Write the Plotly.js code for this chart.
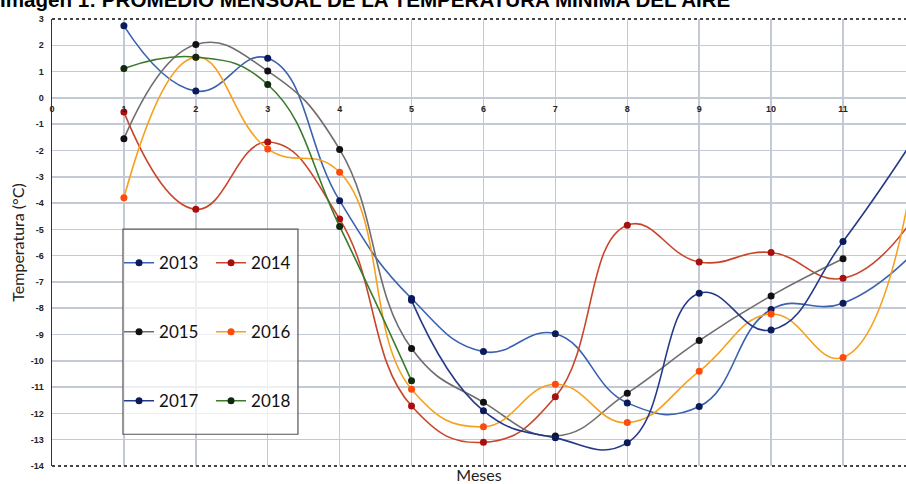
<!DOCTYPE html>
<html>
<head>
<meta charset="utf-8">
<script src="https://cdn.plot.ly/plotly-3.0.1.min.js"></script>
<style>html,body{margin:0;padding:0;background:#fff;}#chart{width:906px;height:484px;}</style>
</head>
<body>
<div id="chart"></div>
<script>
const months = [1, 2, 3, 4, 5, 6, 7, 8, 9, 10, 11, 12];
const monthTicks = [0, 1, 2, 3, 4, 5, 6, 7, 8, 9, 10, 11];
const yTicks = [3, 2, 1, 0, -1, -2, -3, -4, -5, -6, -7, -8, -9, -10, -11, -12, -13, -14];
const seriesNames = ['2013', '2014', '2015', '2016', '2017', '2018'];
const t2013 = [2.74, 0.26, 1.51, -3.91, -7.63, -9.65, -8.97, -11.6, -11.74, -8.05, -7.81, -5.85];
const t2014 = [-0.54, -4.24, -1.68, -4.61, -11.72, -13.1, -11.37, -4.84, -6.24, -5.88, -6.86, -4.5];
const t2015 = [-1.55, 2.03, 1.02, -1.96, -9.53, -11.58, -12.86, -11.23, -9.23, -7.53, -6.12, null];
const t2016 = [-3.8, 1.55, -1.94, -2.83, -11.08, -12.51, -10.89, -12.35, -10.4, -8.22, -9.87, -2.5];
const t2017 = [null, null, null, null, -7.7, -11.9, -12.93, -13.12, -7.43, -8.83, -5.46, -1.5];
const t2018 = [1.12, 1.55, 0.51, -4.89, -10.76, null, null, null, null, null, null, null];

const seriesValues = [t2013, t2014, t2015, t2016, t2017, t2018];
const lineColors = ['#3a62b0', '#c9452a', '#6e6e6e', '#f6a01e', '#24398a', '#3b7a2b'];
const markerColors = ['#0b1a5c', '#a80f0f', '#111111', '#ff4a0a', '#0b1a5c', '#0f2a0f'];
const legendIds = ['legend', 'legend', 'legend2', 'legend2', 'legend3', 'legend3'];

const traces = seriesNames.map((name, i) => ({
  type: 'scatter',
  mode: 'lines+markers',
  name: name,
  x: months,
  y: seriesValues[i],
  line: {color: lineColors[i], width: 1.6, shape: 'spline', smoothing: 1.3},
  marker: {color: markerColors[i], size: 7},
  connectgaps: false,
  legend: legendIds[i],
  hoverinfo: 'x+y+name'
}));
// helper trace so the zero-line label axis is drawn
traces.push({type: 'scatter', x: monthTicks, y: monthTicks.map(() => null), xaxis: 'x2', yaxis: 'y', showlegend: false, hoverinfo: 'skip', mode: 'markers'});

const gridColor = '#c3cad6';
const legendCommon = {
  orientation: 'h', xanchor: 'left', yanchor: 'middle', x: 0.0785,
  bgcolor: 'rgba(0,0,0,0)', borderwidth: 0,
  font: {family: 'Lato, sans-serif', size: 17, color: '#111'},
  entrywidth: 47, entrywidthmode: 'pixels', itemwidth: 30, tracegroupgap: 0
};

const layout = {
  width: 906, height: 484,
  margin: {l: 52, r: 0, t: 19, b: 18, pad: 0},
  paper_bgcolor: '#ffffff', plot_bgcolor: '#ffffff',
  title: {
    text: 'Imagen 1: PROMEDIO MENSUAL DE LA TEMPERATURA MÍNIMA DEL AIRE',
    font: {family: 'Liberation Sans, Arial, sans-serif', size: 20.6, color: '#000', weight: 'bold'},
    x: 0, xanchor: 'left', xref: 'container',
    y: 1, yanchor: 'middle', yref: 'container', pad: {l: 0}
  },
  xaxis: {
    range: [0, 11.876], tickvals: monthTicks, showticklabels: false,
    showgrid: true, gridcolor: gridColor, gridwidth: 1.5, zeroline: false,
    ticks: '', showline: false,
    title: {text: 'Meses', font: {family: 'Lato, sans-serif', size: 16, color: '#222'}, standoff: 4}
  },
  xaxis2: {
    overlaying: 'x', matches: 'x', anchor: 'free', position: 14 / 17, side: 'bottom',
    tickvals: monthTicks, ticktext: monthTicks.map(String),
    showgrid: false, zeroline: false, showline: false, ticks: '', ticklabelstandoff: 4,
    tickfont: {family: 'Liberation Sans, Arial, sans-serif', size: 9, color: '#222', weight: 'bold'}
  },
  yaxis: {
    range: [-14, 3], tickvals: yTicks, ticktext: yTicks.map(String),
    showgrid: true, gridcolor: gridColor, gridwidth: 1.5, zeroline: false,
    showline: true, linecolor: '#333', linewidth: 1.5, ticks: '', ticklabelstandoff: 5,
    tickfont: {family: 'Liberation Sans, Arial, sans-serif', size: 9, color: '#222', weight: 'bold'},
    title: {text: 'Temperatura (°C)', font: {family: 'Lato, sans-serif', size: 16, color: '#222'}, standoff: 2}
  },
  legend: Object.assign({}, legendCommon, {y: 0.4538}),
  legend2: Object.assign({}, legendCommon, {y: 0.2993}),
  legend3: Object.assign({}, legendCommon, {y: 0.1448}),
  shapes: [
    {type: 'line', xref: 'paper', yref: 'paper', x0: 0, x1: 1, y0: 1, y1: 1, line: {color: '#444', width: 2, dash: 'dot'}},
    {type: 'line', xref: 'paper', yref: 'paper', x0: 0, x1: 1, y0: 0, y1: 0, line: {color: '#444', width: 2, dash: 'dot'}},
    {type: 'rect', xref: 'paper', yref: 'paper', x0: 0.0831, x1: 0.288, y0: 0.071, y1: 0.530,
     line: {color: '#555', width: 1.2}, fillcolor: 'rgba(255,255,255,0.7)', layer: 'above'}
  ],
  showlegend: true
};

Plotly.newPlot('chart', traces, layout, {displayModeBar: false, staticPlot: true});
</script>
</body>
</html>
